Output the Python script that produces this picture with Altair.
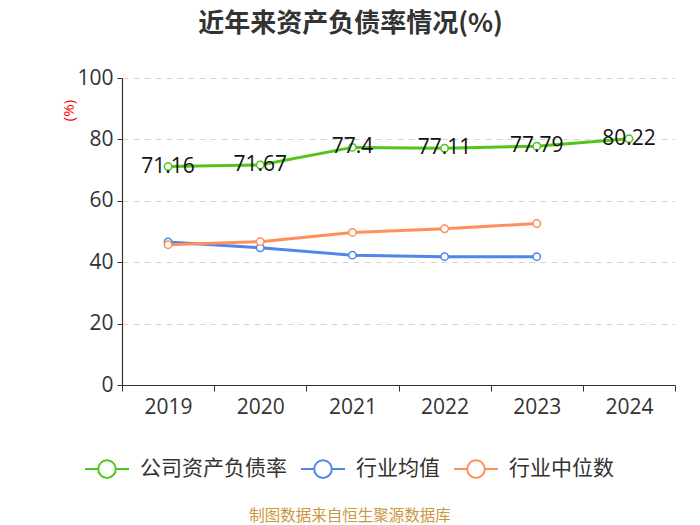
import altair as alt
import pandas as pd

years = [2019, 2020, 2021, 2022, 2023, 2024]
company = [71.16, 71.67, 77.4, 77.11, 77.79, 80.22]
ind_years = [2019, 2020, 2021, 2022, 2023]
ind_mean = [46.6, 44.7, 42.3, 41.8, 41.8]
ind_median = [45.7, 46.7, 49.7, 50.9, 52.6]
series_names = ["公司资产负债率", "行业均值", "行业中位数"]
colors = ["#52c41a", "#4e86ec", "#ff8f5c"]
x_tick_values = [2018.5, 2019, 2019.5, 2020, 2020.5, 2021, 2021.5, 2022, 2022.5,
                 2023, 2023.5, 2024, 2024.5]
y_tick_values = [0, 20, 40, 60, 80, 100]
title_text = "近年来资产负债率情况(%)"
footer_text = "制图数据来自恒生聚源数据库"

rows = []
for y, v in zip(years, company):
    rows.append({"year": y, "value": v, "series": series_names[0], "label": f"{v:g}"})
for y, v in zip(ind_years, ind_mean):
    rows.append({"year": y, "value": v, "series": series_names[1], "label": ""})
for y, v in zip(ind_years, ind_median):
    rows.append({"year": y, "value": v, "series": series_names[2], "label": ""})
df = pd.DataFrame(rows)

FONT = "Open Sans, Noto Sans CJK SC, sans-serif"
W, H = 553, 307

x_enc = alt.X(
    "year:Q",
    scale=alt.Scale(domain=[2018.5, 2024.5], nice=False, zero=False),
    axis=alt.Axis(
        values=x_tick_values,
        labelExpr="datum.value % 1 == 0 ? format(datum.value, 'd') : ''",
        labelOverlap=False,
        labelFlush=False,
        labelFontSize=21,
        labelColor="#333333",
        labelFont=FONT,
        labelPadding=5,
        tickSize=6,
        tickColor="#333333",
        tickOpacity={"condition": {"test": "datum.value % 1 == 0", "value": 0}, "value": 1},
        domainColor="#333333",
        domainWidth=1.2,
        grid=False,
        title=None,
    ),
)
y_enc = alt.Y(
    "value:Q",
    scale=alt.Scale(domain=[0, 100], nice=False),
    axis=alt.Axis(
        values=y_tick_values,
        grid=True,
        gridDash=[6, 5],
        gridColor="#d4d4d4",
        domainColor="#333333",
        domainWidth=1.2,
        tickColor="#333333",
        tickSize=5,
        labelFontSize=21,
        labelColor="#333333",
        labelFont=FONT,
        labelPadding=4,
        title="(%)",
        titleColor="red",
        titleFontSize=15,
        titleFontWeight="normal",
        titleFont=FONT,
        titleX=-54,
        titleY=32,
        titleAlign="center",
        titleBaseline="middle",
    ),
)
color_enc = alt.Color(
    "series:N",
    scale=alt.Scale(domain=series_names, range=colors),
    legend=alt.Legend(
        orient="none",
        legendX=-38,
        legendY=368,
        direction="horizontal",
        title=None,
        symbolType="M-1,0L-0.4,0M0.4,0L1,0M0.4,0A0.4,0.4,0,1,1,-0.4,0A0.4,0.4,0,1,1,0.4,0",
        symbolSize=1936,
        symbolStrokeWidth=2,
        symbolFillColor="white",
        labelFontSize=21,
        labelFont=FONT,
        labelColor="#333333",
        labelOffset=10,
        columnPadding=10,
    ),
)

base = alt.Chart(df)
lines = base.mark_line(strokeWidth=3).encode(x=x_enc, y=y_enc, color=color_enc)
points = base.mark_point(filled=True, fill="white", size=55, strokeWidth=1.5, opacity=1).encode(
    x="year:Q", y="value:Q", stroke=alt.Stroke("series:N", scale=alt.Scale(domain=series_names, range=colors), legend=None)
)
labels = base.transform_filter(alt.datum.label != "").mark_text(
    fontSize=21, font=FONT, color="#111111", align="center", baseline="middle"
).encode(x="year:Q", y="value:Q", text="label:N")

footer = alt.Chart(pd.DataFrame({"t": [footer_text]})).mark_text(
    fontSize=15.5, font="Noto Sans CJK SC", color="#c9973f", align="center", baseline="middle"
).encode(x=alt.value(228), y=alt.value(438), text="t:N")

chart = alt.layer(lines, points, labels, footer).properties(
    width=W,
    height=H,
    title=alt.TitleParams(
        title_text, fontSize=26, font="Noto Sans CJK SC", fontWeight="bold",
        color="#333333", anchor="middle", dx=-48, offset=30,
    ),
    autosize=alt.AutoSizeParams(type="none"),
    padding={"left": 114, "top": 70, "right": 17, "bottom": 140},
).configure(background="white", view=alt.ViewConfig(stroke=None))

chart.save("out.html", embed_options={"renderer": "svg", "actions": False})
